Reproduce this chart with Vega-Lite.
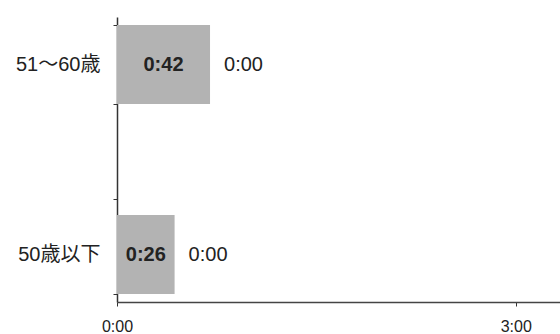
{
  "$schema": "https://vega.github.io/schema/vega-lite/v6.json",
  "width": 443,
  "height": 285,
  "autosize": {"type": "none"},
  "padding": {"left": 117, "top": 17, "right": 0, "bottom": 32},
  "background": "white",
  "config": {
    "view": {"stroke": null},
    "font": "Liberation Sans, Noto Sans CJK JP, sans-serif"
  },
  "data": {
    "values": [
      {"age": "51〜60歳", "minutes": 42, "label": "0:42", "other": "0:00"},
      {"age": "50歳以下", "minutes": 26, "label": "0:26", "other": "0:00"}
    ]
  },
  "encoding": {
    "y": {
      "field": "age",
      "type": "nominal",
      "scale": {"domain": ["51〜60歳", " ", "50歳以下"], "paddingInner": 0.17, "paddingOuter": 0.085},
      "axis": {
        "title": null,
        "tickBand": "extent",
        "tickSize": 4,
        "tickColor": "#333",
        "domainColor": "#333",
        "domainWidth": 1.5,
        "labelPadding": 13,
        "labelFontSize": 20,
        "labelColor": "#222",
        "labelFont": "Liberation Sans, Noto Sans CJK JP"
      }
    }
  },
  "resolve": {"scale": {"x": "independent"}},
  "layer": [
    {
      "layer": [
        {
          "mark": {"type": "bar", "color": "#b3b3b3"},
          "encoding": {
            "x": {
              "field": "minutes",
              "type": "quantitative",
              "scale": {"domain": [0, 200], "nice": false},
              "axis": {
                "title": null,
                "values": [0, 180],
                "grid": false,
                "tickSize": 4,
                "tickColor": "#333",
                "domainColor": "#444",
                "domainWidth": 1.5,
                "labelPadding": 12,
                "labelFontSize": 16,
                "labelColor": "#222",
                "labelFlush": false,
                "labelExpr": "floor(datum.value/60) + ':' + (datum.value % 60 < 10 ? '0' : '') + (datum.value % 60)"
              }
            }
          }
        },
        {
          "mark": {"type": "text", "fontSize": 20, "color": "#222", "align": "left", "baseline": "middle", "dx": 14},
          "encoding": {
            "x": {"field": "minutes", "type": "quantitative"},
            "text": {"field": "other"}
          }
        }
      ]
    },
    {
      "mark": {"type": "text", "fontSize": 20, "fontWeight": "bold", "color": "#222", "align": "center", "baseline": "middle"},
      "encoding": {
        "x": {"field": "minutes", "type": "quantitative", "scale": {"domain": [0, 400], "nice": false}, "axis": null},
        "text": {"field": "label"}
      }
    }
  ]
}
